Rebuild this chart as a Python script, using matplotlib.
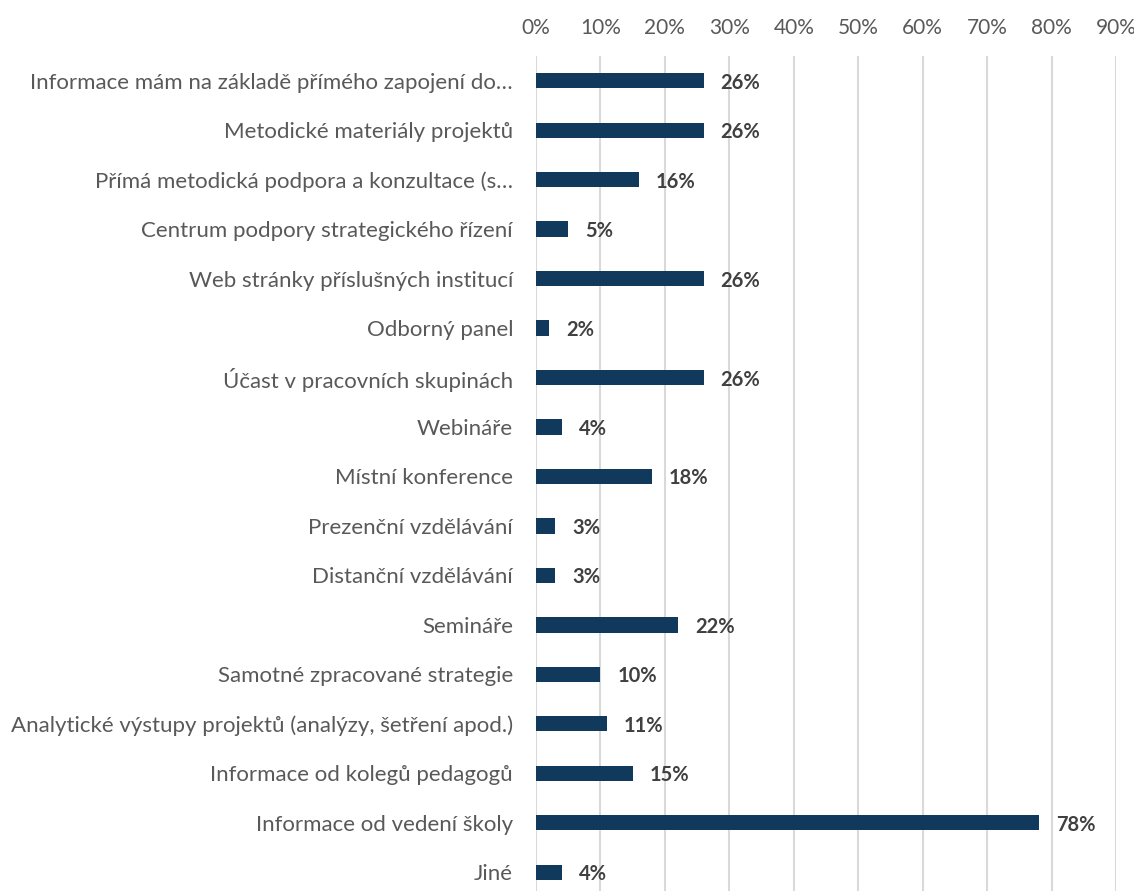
import matplotlib
matplotlib.use("Agg")
import matplotlib.pyplot as plt
import numpy as np

# zdroje informací – podíl respondentů (shora dolů)
categories = [
    "Informace mám na základě přímého zapojení do…",
    "Metodické materiály projektů",
    "Přímá metodická podpora a konzultace (s…",
    "Centrum podpory strategického řízení",
    "Web stránky příslušných institucí",
    "Odborný panel",
    "Účast v pracovních skupinách",
    "Webináře",
    "Místní konference",
    "Prezenční vzdělávání",
    "Distanční vzdělávání",
    "Semináře",
    "Samotné zpracované strategie",
    "Analytické výstupy projektů (analýzy, šetření apod.)",
    "Informace od kolegů pedagogů",
    "Informace od vedení školy",
    "Jiné",
]
values = [26, 26, 16, 5, 26, 2, 26, 4, 18, 3, 3, 22, 10, 11, 15, 78, 4]
ticks = [0, 10, 20, 30, 40, 50, 60, 70, 80, 90]

BAR = "#10395B"
GRID = "#D9D9D9"
TXT = "#595959"
VAL = "#404040"
plt.rcParams["font.family"] = ["Lato", "DejaVu Sans"]

W, H, DPI = 1134, 891, 100
fig = plt.figure(figsize=(W / DPI, H / DPI), dpi=DPI)
x0, x1, ytop = 536, 1116, 56
ax = fig.add_axes([x0 / W, 0, (x1 - x0) / W, (H - ytop) / H])

y = np.arange(len(categories))
ax.barh(y, values, height=0.31, color=BAR, zorder=3)
for yi, v in zip(y, values):
    ax.annotate(f"{v}%", (v, yi), xytext=(17, 0), textcoords="offset pixels",
                va="center_baseline", ha="left", fontsize=14.5, fontweight="bold",
                color=VAL, zorder=4)

ax.set_xlim(0, 90)
ax.set_ylim(16.38, -0.5)
ax.set_xticks(ticks)
ax.set_xticklabels([f"{t}%" for t in ticks], fontsize=15, color=TXT)
ax.xaxis.tick_top()
ax.tick_params(axis="x", length=0, pad=13)
ax.set_yticks(y)
ax.set_yticklabels(categories, fontsize=16, color=TXT)
ax.tick_params(axis="y", length=0, pad=16.5)
ax.grid(axis="x", color=GRID, linewidth=1.5, zorder=0)
for s in ax.spines.values():
    s.set_visible(False)

fig.savefig("out.png", dpi=DPI)
